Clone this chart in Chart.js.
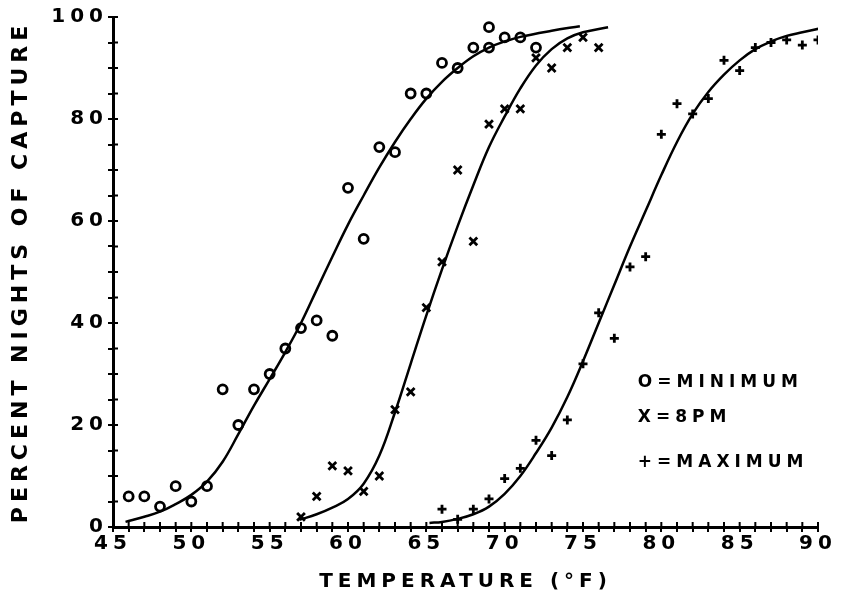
<!DOCTYPE html>
<html><head><meta charset="utf-8">
<script src="https://cdn.jsdelivr.net/npm/chart.js@4.4.1/dist/chart.umd.min.js"></script>
<style>html,body{margin:0;background:#fff}</style>
</head><body>
<canvas id="c" width="846" height="601"></canvas>
<script>
// observed points (temperature F, percent nights of capture)
const minT=[46,47,48,49,50,51,52,53,54,55,56,57,58,59,60,61,62,63,64,65,66,67,68,69,69,70,71,72];
const minP=[6,6,4,8,5,8,27,20,27,30,35,39,40.5,37.5,66.5,56.5,74.5,73.5,85,85,91,90,94,94,98,96,96,94];
const pmT=[57,58,59,60,61,62,63,64,65,66,67,68,69,70,71,72,73,74,75,76];
const pmP=[2,6,12,11,7,10,23,26.5,43,52,70,56,79,82,82,92,90,94,96,94];
const maxT=[66,67,68,69,70,71,72,73,74,75,76,77,78,79,80,81,82,83,84,85,86,87,88,89,90];
const maxP=[3.5,1.5,3.5,5.5,9.5,11.5,17,14,21,32,42,37,51,53,77,83,81,84,91.5,89.5,94,95,95.5,94.5,95.5];

// fitted curves
const minCurveT=[45.8,47,48,49,50,51,52,53,54,55,56,57,58,59,60,61,62,63,64,65,66,67,68,69,70,71,73,74.8];
const minCurveP=[1,2,3,4.5,6.3,8.9,12.8,18.2,23.8,29,34.3,40,46.5,53,59.3,65,70.5,75.5,80,84,87.3,90,92.3,94,95.2,96.1,97.3,98.2];
const pmCurveT=[56.9,58,59,60,61,62,63,64,65,66,67,68,69,70,71,72,73,74,75,76.6];
const pmCurveP=[1.4,2.5,3.8,5.5,8.5,14,22.5,32,41.5,50.5,59,67,74.5,80.5,86,90.5,93.7,95.8,97,98];
const maxCurveT=[65.2,66,67,68,69,70,71,72,73,74,75,76,77,78,79,80,81,82,83,84,85,86,87,88,89,90.2];
const maxCurveP=[0.8,1,1.6,2.5,4,6.5,10,14.5,19.5,25.5,32.5,40,47.5,55,62,69,75.5,81,85.3,88.7,91.5,93.7,95.2,96.3,97,97.8];

const legendText=['O=MINIMUM','X=8PM','+=MAXIMUM'];
const legendX=78.5;
const legendY=[28.4,21.5,12.7];

const pts=(t,p)=>t.map((v,i)=>({x:v,y:p[i]}));
const FONT='DejaVu Sans';

const plotterLook={id:'plotterLook',
  beforeDraw(chart){chart.ctx.letterSpacing='5px';},
  afterDraw(chart){
    const {ctx,scales:{x,y}}=chart;
    ctx.save(); ctx.strokeStyle='#000'; ctx.lineWidth=2;
    ctx.beginPath();
    x.ticks.forEach(t=>{const px=x.getPixelForValue(t.value); ctx.moveTo(px,y.bottom); ctx.lineTo(px,y.bottom-5);});
    y.ticks.forEach(t=>{const py=y.getPixelForValue(t.value); ctx.moveTo(x.left,py); ctx.lineTo(x.left+5,py);});
    ctx.stroke();
    ctx.font='bold 17px "'+FONT+'"'; ctx.fillStyle='#000'; ctx.textBaseline='middle'; ctx.textAlign='left';
    legendText.forEach((s,i)=>ctx.fillText(s,x.getPixelForValue(legendX),y.getPixelForValue(legendY[i])));
    ctx.restore();
  }};

const curve=(t,p)=>({type:'line',data:pts(t,p),borderColor:'#000',borderWidth:2.5,pointRadius:0,tension:0.4,fill:false});
const marks=(t,p,style,r)=>({type:'scatter',data:pts(t,p),pointStyle:style,pointRadius:r,pointHoverRadius:r,borderColor:'#000',backgroundColor:'rgba(0,0,0,0)',pointBorderWidth:2.8});

new Chart(document.getElementById('c'),{
  type:'scatter',
  data:{datasets:[
    curve(minCurveT,minCurveP),curve(pmCurveT,pmCurveP),curve(maxCurveT,maxCurveP),
    marks(minT,minP,'circle',4.5),marks(pmT,pmP,'crossRot',5.5),marks(maxT,maxP,'cross',4.5)
  ]},
  options:{responsive:false,animation:false,devicePixelRatio:1,
    layout:{padding:{top:17,right:28,left:0,bottom:0}},
    plugins:{legend:{display:false},tooltip:{enabled:false}},
    scales:{
      x:{type:'linear',min:45,max:90,
        border:{color:'#000',width:3},
        grid:{drawOnChartArea:false,color:'#000',lineWidth:2,tickLength:5},
        ticks:{stepSize:1,autoSkip:false,maxRotation:0,padding:0,color:'#000',font:{family:FONT,size:20,weight:'bold'},callback:v=>v%5===0?String(v):''},
        title:{display:true,text:'TEMPERATURE (°F)',color:'#000',font:{family:FONT,size:20,weight:'bold'},padding:{top:0,bottom:7}},
        afterFit(s){s.height=74;}},
      y:{type:'linear',min:0,max:100,
        border:{color:'#000',width:3},
        grid:{drawOnChartArea:false,color:'#000',lineWidth:2,tickLength:5},
        ticks:{stepSize:5,autoSkip:false,padding:0,color:'#000',font:{family:FONT,size:20,weight:'bold'},callback:v=>v%20===0?String(v):''},
        title:{display:true,text:'PERCENT NIGHTS OF CAPTURE',color:'#000',font:{family:FONT,size:22,weight:'bold'},padding:{top:8,bottom:0}},
        afterFit(s){s.width=113;}}
    }},
  plugins:[plotterLook]
});
</script>
</body></html>
